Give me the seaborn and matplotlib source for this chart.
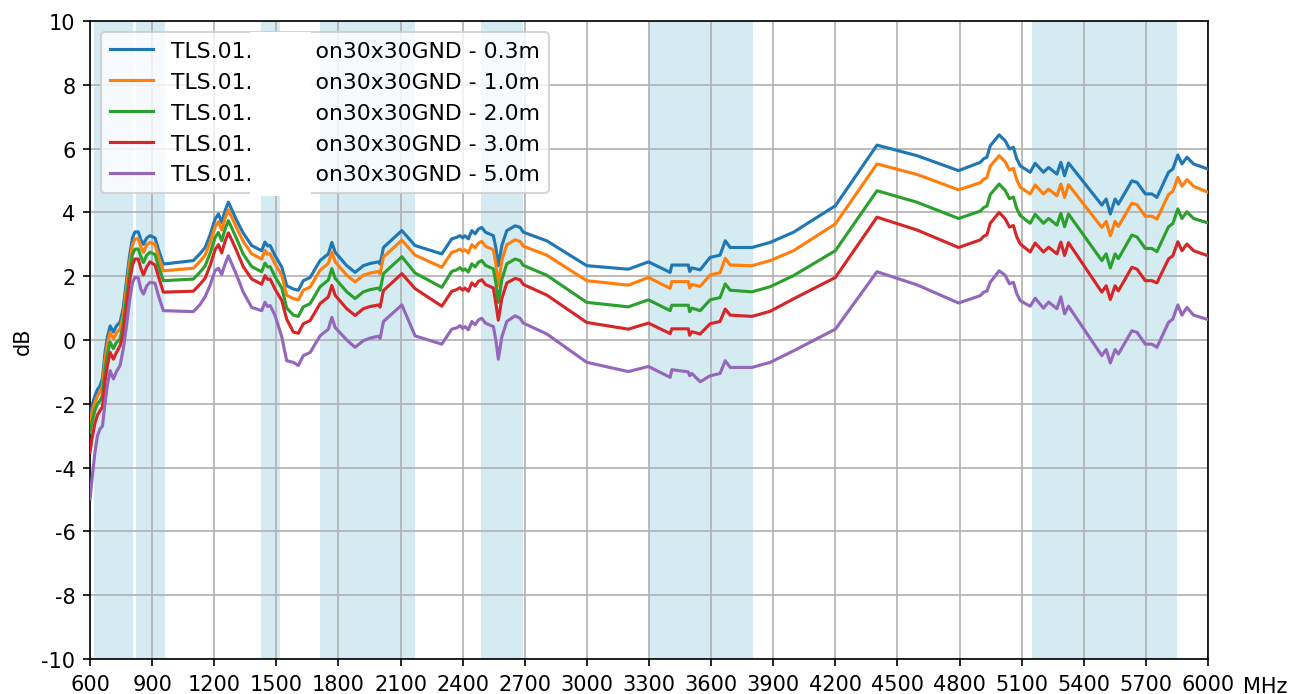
import numpy as np
import pandas as pd
import matplotlib
matplotlib.use("Agg")
import matplotlib.pyplot as plt
from matplotlib.patches import Rectangle
import seaborn as sns

# ---------------- data ----------------
freq_mhz = [600, 612, 624, 636, 648, 660, 672, 684, 697, 713, 727, 745, 760, 775, 790, 805, 817, 833, 845, 858,
            874, 890, 914, 930, 954, 1099, 1130, 1156, 1180, 1204, 1220, 1236, 1252, 1268, 1284, 1309, 1340,
            1381, 1429, 1445, 1458, 1470, 1494, 1526, 1550, 1582, 1606, 1630, 1663, 1711, 1751, 1768, 1784,
            1840, 1880, 1920, 1953, 1993, 2001, 2017, 2106, 2170, 2299, 2347, 2371, 2387, 2400, 2411, 2427,
            2444, 2460, 2476, 2492, 2510, 2548, 2560, 2572, 2589, 2613, 2653, 2677, 2693, 2806, 2999, 3200,
            3297, 3402, 3410, 3490, 3496, 3507, 3547, 3595, 3643, 3668, 3692, 3797, 3885, 3998, 4200, 4401,
            4594, 4795, 4900, 4916, 4932, 4948, 4991, 5020, 5041, 5060, 5075, 5093, 5141, 5165, 5205, 5230,
            5270, 5289, 5307, 5326, 5487, 5508, 5528, 5551, 5567, 5632, 5657, 5697, 5729, 5753, 5809, 5830,
            5854, 5874, 5898, 5930, 6000]

db_03m = [-2.40, -2.00, -1.75, -1.55, -1.44, -1.20, -0.40, 0.10, 0.44, 0.25, 0.44, 0.56, 1.00, 1.80, 2.60, 3.20,
          3.39, 3.39, 3.15, 3.00, 3.20, 3.27, 3.20, 2.85, 2.38, 2.49, 2.70, 2.90, 3.30, 3.79, 3.95, 3.69, 4.05,
          4.32, 4.10, 3.74, 3.35, 2.96, 2.80, 3.07, 2.95, 2.96, 2.64, 2.29, 1.70, 1.60, 1.56, 1.86, 1.96, 2.49,
          2.70, 3.06, 2.75, 2.33, 2.12, 2.33, 2.40, 2.45, 2.38, 2.90, 3.43, 2.96, 2.70, 3.17, 3.22, 3.27, 3.20,
          3.27, 3.17, 3.43, 3.33, 3.48, 3.53, 3.38, 3.27, 2.90, 2.33, 2.96, 3.43, 3.58, 3.53, 3.38, 3.11, 2.33,
          2.22, 2.45, 2.12, 2.35, 2.35, 2.15, 2.26, 2.20, 2.59, 2.66, 3.11, 2.90, 2.90, 3.06, 3.38, 4.21, 6.11,
          5.78, 5.31, 5.57, 5.68, 5.73, 6.09, 6.43, 6.25, 5.99, 6.04, 5.70, 5.46, 5.26, 5.54, 5.26, 5.41, 5.20,
          5.57, 5.15, 5.55, 4.23, 4.42, 3.95, 4.42, 4.26, 4.99, 4.94, 4.58, 4.58, 4.47, 5.26, 5.36, 5.80, 5.52,
          5.73, 5.52, 5.36]

db_10m = [-2.58, -2.20, -1.95, -1.76, -1.64, -1.42, -0.62, -0.12, 0.24, 0.03, 0.22, 0.34, 0.78, 1.58, 2.38, 2.98,
          3.17, 3.17, 2.93, 2.75, 2.98, 3.06, 3.00, 2.63, 2.17, 2.25, 2.46, 2.66, 3.06, 3.55, 3.71, 3.45, 3.81,
          4.08, 3.86, 3.50, 3.09, 2.70, 2.54, 2.81, 2.69, 2.70, 2.38, 2.03, 1.40, 1.30, 1.26, 1.56, 1.66, 2.19,
          2.40, 2.76, 2.45, 2.03, 1.82, 2.03, 2.10, 2.15, 2.08, 2.60, 3.13, 2.66, 2.28, 2.75, 2.80, 2.85, 2.78,
          2.83, 2.73, 2.99, 2.89, 3.04, 3.09, 2.94, 2.83, 2.40, 1.70, 2.50, 2.99, 3.14, 3.09, 2.94, 2.66, 1.86,
          1.72, 1.96, 1.62, 1.83, 1.83, 1.63, 1.74, 1.68, 2.04, 2.11, 2.56, 2.35, 2.33, 2.49, 2.80, 3.64, 5.52,
          5.19, 4.71, 4.93, 5.04, 5.09, 5.45, 5.78, 5.59, 5.33, 5.38, 5.04, 4.79, 4.58, 4.86, 4.58, 4.73, 4.52,
          4.89, 4.47, 4.87, 3.53, 3.72, 3.27, 3.72, 3.56, 4.29, 4.24, 3.88, 3.88, 3.79, 4.56, 4.66, 5.10, 4.82,
          5.03, 4.82, 4.63]

db_20m = [-2.89, -2.50, -2.20, -2.00, -1.90, -1.75, -0.95, -0.45, -0.07, -0.27, -0.08, 0.03, 0.48, 1.28, 2.08,
          2.68, 2.85, 2.85, 2.62, 2.43, 2.66, 2.75, 2.68, 2.33, 1.86, 1.91, 2.12, 2.32, 2.72, 3.21, 3.37, 3.11,
          3.47, 3.74, 3.52, 3.16, 2.69, 2.30, 2.14, 2.41, 2.29, 2.30, 1.98, 1.63, 1.00, 0.78, 0.74, 1.04, 1.14,
          1.67, 1.88, 2.24, 1.93, 1.51, 1.30, 1.51, 1.58, 1.63, 1.56, 2.08, 2.61, 2.10, 1.65, 2.15, 2.20, 2.27,
          2.18, 2.23, 2.13, 2.39, 2.29, 2.44, 2.49, 2.34, 2.23, 1.80, 1.18, 1.90, 2.39, 2.54, 2.49, 2.34, 2.03,
          1.18, 1.04, 1.26, 0.92, 1.09, 1.09, 0.89, 1.00, 0.92, 1.26, 1.33, 1.76, 1.56, 1.51, 1.67, 2.02, 2.80,
          4.68, 4.32, 3.81, 4.04, 4.15, 4.20, 4.56, 4.89, 4.69, 4.43, 4.48, 4.14, 3.90, 3.66, 3.94, 3.66, 3.81,
          3.60, 3.97, 3.55, 3.95, 2.49, 2.70, 2.26, 2.70, 2.55, 3.29, 3.23, 2.87, 2.87, 2.77, 3.55, 3.65, 4.11,
          3.81, 4.02, 3.81, 3.67]

db_30m = [-3.52, -3.00, -2.60, -2.35, -2.22, -2.10, -1.30, -0.80, -0.39, -0.60, -0.40, -0.18, 0.20, 1.00, 1.80,
          2.35, 2.54, 2.54, 2.25, 2.04, 2.30, 2.45, 2.35, 2.00, 1.50, 1.53, 1.74, 1.94, 2.34, 2.83, 2.99, 2.73,
          3.09, 3.36, 3.14, 2.78, 2.30, 1.91, 1.75, 2.02, 1.90, 1.91, 1.59, 1.24, 0.65, 0.25, 0.21, 0.51, 0.61,
          1.14, 1.35, 1.71, 1.40, 0.98, 0.77, 0.98, 1.05, 1.10, 1.03, 1.55, 2.08, 1.61, 1.06, 1.53, 1.58, 1.64,
          1.56, 1.63, 1.53, 1.79, 1.69, 1.84, 1.89, 1.74, 1.63, 1.15, 0.62, 1.30, 1.79, 1.93, 1.89, 1.74, 1.41,
          0.55, 0.34, 0.53, 0.20, 0.35, 0.35, 0.15, 0.26, 0.19, 0.51, 0.58, 0.97, 0.78, 0.74, 0.90, 1.29, 1.96,
          3.85, 3.45, 2.90, 3.14, 3.25, 3.30, 3.66, 4.00, 3.80, 3.54, 3.59, 3.25, 3.01, 2.76, 3.04, 2.76, 2.91,
          2.70, 3.07, 2.65, 3.05, 1.50, 1.70, 1.27, 1.70, 1.54, 2.28, 2.22, 1.86, 1.86, 1.79, 2.54, 2.64, 3.08,
          2.80, 3.01, 2.80, 2.64]

db_50m = [-4.98, -4.20, -3.50, -3.00, -2.79, -2.70, -2.00, -1.40, -0.96, -1.22, -1.00, -0.80, -0.30, 0.40, 1.20,
          1.80, 1.96, 1.95, 1.60, 1.44, 1.70, 1.81, 1.78, 1.40, 0.92, 0.89, 1.10, 1.36, 1.72, 2.18, 2.25, 2.06,
          2.38, 2.64, 2.40, 2.02, 1.50, 1.02, 0.92, 1.18, 1.05, 1.08, 0.76, 0.10, -0.65, -0.70, -0.80, -0.49,
          -0.39, 0.13, 0.34, 0.71, 0.39, 0.00, -0.23, -0.02, 0.06, 0.12, 0.05, 0.58, 1.10, 0.13, -0.13, 0.34,
          0.38, 0.45, 0.36, 0.42, 0.32, 0.58, 0.48, 0.63, 0.68, 0.53, 0.42, 0.00, -0.60, 0.10, 0.58, 0.76, 0.68,
          0.53, 0.19, -0.70, -0.99, -0.83, -1.17, -0.93, -1.00, -1.12, -1.05, -1.31, -1.12, -1.05, -0.65, -0.86,
          -0.86, -0.70, -0.34, 0.34, 2.14, 1.73, 1.16, 1.39, 1.50, 1.53, 1.81, 2.17, 2.03, 1.76, 1.81, 1.47,
          1.23, 1.06, 1.31, 1.00, 1.19, 0.98, 1.35, 0.82, 1.06, -0.49, -0.30, -0.72, -0.30, -0.44, 0.29, 0.24,
          -0.13, -0.13, -0.23, 0.55, 0.66, 1.10, 0.78, 1.02, 0.78, 0.64]

series_labels = [
    "TLS.01.         on30x30GND - 0.3m",
    "TLS.01.         on30x30GND - 1.0m",
    "TLS.01.         on30x30GND - 2.0m",
    "TLS.01.         on30x30GND - 3.0m",
    "TLS.01.         on30x30GND - 5.0m",
]

band_start_mhz = [617, 824, 1427, 1710, 2490, 3300, 5150]
band_end_mhz = [806, 960, 1518, 2170, 2690, 3800, 5850]

x_ticks = list(range(600, 6001, 300))
y_ticks = list(range(-10, 11, 2))

# ---------------- build long table ----------------
all_series = [db_03m, db_10m, db_20m, db_30m, db_50m]
frames = []
for lab, vals in zip(series_labels, all_series):
    frames.append(pd.DataFrame({"freq": freq_mhz, "dB": vals, "series": lab}))
df = pd.concat(frames, ignore_index=True)

# ---------------- plot ----------------
plt.rcParams["font.family"] = ["DejaVu Sans"]
plt.rcParams["font.size"] = 10
plt.rcParams["axes.unicode_minus"] = False

fig = plt.figure(figsize=(8.7, 4.6333), dpi=150)
ax = fig.add_axes([0.069, 0.0504, 0.8567, 0.9179])

for lo, hi in zip(band_start_mhz, band_end_mhz):
    ax.axvspan(lo, hi, color="lightblue", alpha=0.5, lw=0, zorder=1)

sns.lineplot(data=df, x="freq", y="dB", hue="series", hue_order=series_labels,
             palette="tab10", linewidth=1.5, ax=ax, sort=False, estimator=None, zorder=3)

ax.set_xlim(600, 6000)
ax.set_ylim(-10, 10)
ax.set_xticks(x_ticks)
ax.set_yticks(y_ticks)
ax.grid(True, color="#b0b0b0", linewidth=0.8, zorder=2)
for s in ax.spines.values():
    s.set_visible(True)
    s.set_color("black")

ax.set_ylabel("dB")
ax.set_xlabel("MHz")
ax.xaxis.set_label_coords(1.0515, -0.0265)
ax.xaxis.label.set_va("top")

handles, labels = ax.get_legend_handles_labels()
leg = ax.legend(handles, labels, loc="upper left", fontsize=10.5)

# white patch covering the gap in legend labels (as in reference)
fig.patches.append(Rectangle((250 / 1305, 1 - 197 / 695), (311 - 250) / 1305, (197 - 33) / 695,
                             transform=fig.transFigure, facecolor="white", edgecolor="none",
                             zorder=10))

fig.savefig("out.png", dpi=150)
